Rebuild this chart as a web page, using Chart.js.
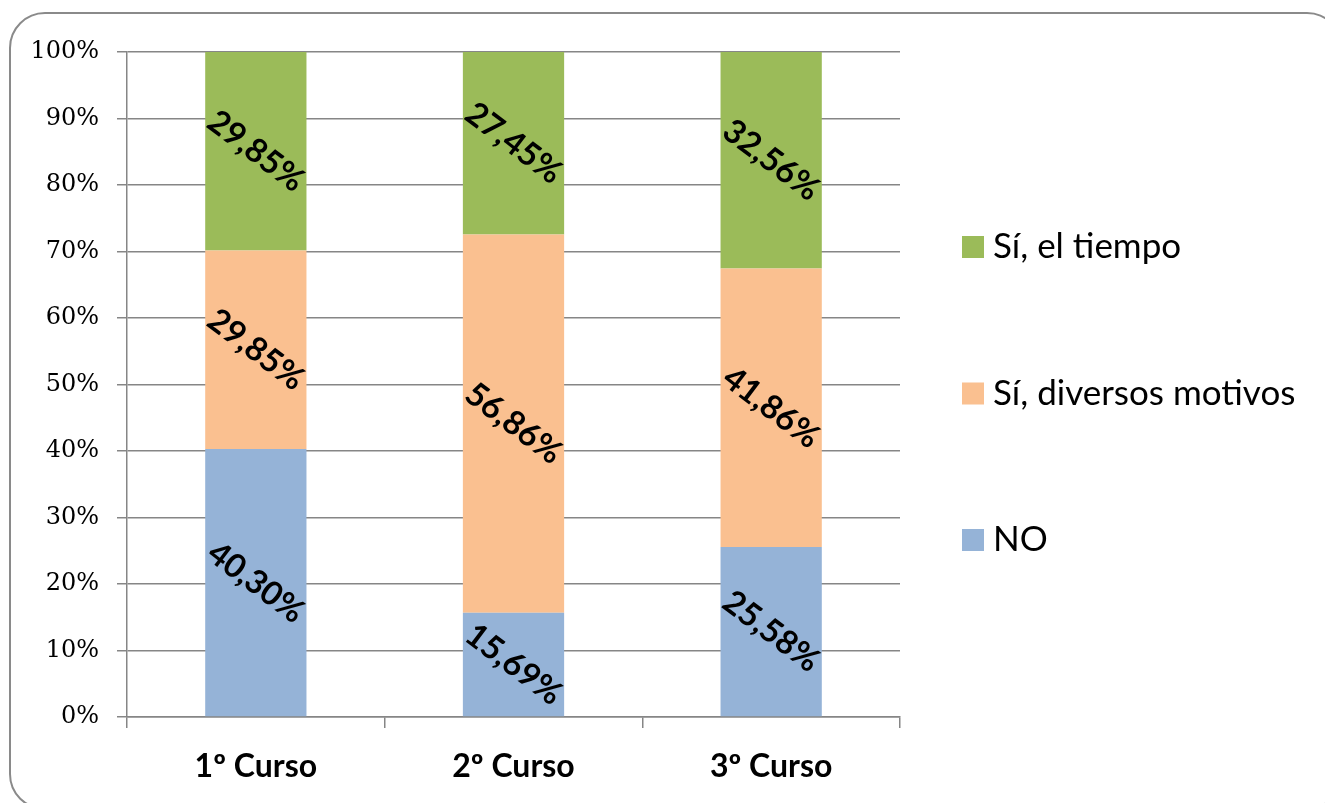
<!DOCTYPE html>
<html lang="es">
<head>
    <meta charset="UTF-8">
    <title>Cursos - gráfico apilado 100%</title>
    <script src="https://cdn.jsdelivr.net/npm/chart.js"></script>
    <style>
        body {
            margin: 0;
            background: #ffffff;
            overflow: hidden;
        }
        .frame {
            position: absolute;
            left: 9px;
            top: 12px;
            width: 1334px;
            height: 798px;
            border: 2px solid #8a8a8a;
            border-radius: 36px;
            box-sizing: border-box;
        }
        .chart-box {
            position: absolute;
            left: 0;
            top: 0;
            width: 1325px;
            height: 803px;
        }
    </style>
</head>
<body>
    <div class="frame"></div>
    <div class="chart-box">
        <canvas id="grafico"></canvas>
    </div>

    <script>
        // Datos
        const cursos = ['1º Curso', '2º Curso', '3º Curso'];
        const valoresNo = [40.30, 15.69, 25.58];
        const valoresDiversos = [29.85, 56.86, 41.86];
        const valoresTiempo = [29.85, 27.45, 32.56];
        const nombresSeries = ['NO', 'Sí, diversos motivos', 'Sí, el tiempo'];
        const coloresSeries = ['#95b3d7', '#fac090', '#9bbb59'];
        const ticksY = [0, 10, 20, 30, 40, 50, 60, 70, 80, 90, 100];

        const fuenteTexto = 'Lato, "Open Sans", sans-serif';
        const colorRejilla = '#868686';

        function formatoPorcentaje(v) {
            return v.toFixed(2).replace('.', ',') + '%';
        }

        // Etiquetas de datos giradas dentro de cada segmento
        const pluginEtiquetas = {
            id: 'etiquetasDatos',
            afterDatasetsDraw(chart) {
                const ctx = chart.ctx;
                ctx.save();
                ctx.font = 'bold 33px ' + fuenteTexto;
                ctx.fillStyle = '#000000';
                ctx.textAlign = 'center';
                ctx.textBaseline = 'middle';
                chart.data.datasets.forEach((ds, i) => {
                    const meta = chart.getDatasetMeta(i);
                    meta.data.forEach((bar, j) => {
                        const cy = (bar.y + bar.base) / 2;
                        ctx.save();
                        ctx.translate(bar.x, cy);
                        ctx.rotate(37 * Math.PI / 180);
                        ctx.fillText(formatoPorcentaje(ds.data[j]), 0, 0);
                        ctx.restore();
                    });
                });
                ctx.restore();
            }
        };

        // Leyenda a la derecha, en orden inverso
        const pluginLeyenda = {
            id: 'leyendaDerecha',
            afterDraw(chart) {
                const ctx = chart.ctx;
                const area = chart.chartArea;
                const items = chart.data.datasets.slice().reverse();
                const separacion = 146.5;
                const centro = (area.top + area.bottom) / 2 + 9;
                const x0 = area.right + 62;
                ctx.save();
                ctx.font = '35px ' + fuenteTexto;
                ctx.textBaseline = 'middle';
                ctx.textAlign = 'left';
                items.forEach((ds, k) => {
                    const y = centro + (k - 1) * separacion;
                    ctx.fillStyle = ds.backgroundColor;
                    ctx.fillRect(x0, y - 11, 22, 22);
                    ctx.fillStyle = '#000000';
                    ctx.fillText(ds.label, x0 + 31, y);
                });
                ctx.restore();
            }
        };

        const ctx = document.getElementById('grafico').getContext('2d');
        new Chart(ctx, {
            type: 'bar',
            data: {
                labels: cursos,
                datasets: [
                    { label: nombresSeries[0], data: valoresNo, backgroundColor: coloresSeries[0] },
                    { label: nombresSeries[1], data: valoresDiversos, backgroundColor: coloresSeries[1] },
                    { label: nombresSeries[2], data: valoresTiempo, backgroundColor: coloresSeries[2] }
                ]
            },
            plugins: [pluginEtiquetas, pluginLeyenda],
            options: {
                responsive: true,
                maintainAspectRatio: false,
                animation: false,
                categoryPercentage: 1,
                barPercentage: 0.393,
                layout: {
                    padding: { left: 0, top: 52, right: 425, bottom: 0 }
                },
                plugins: {
                    legend: { display: false },
                    tooltip: { enabled: false }
                },
                scales: {
                    x: {
                        stacked: true,
                        afterFit(scale) { scale.height = 86; },
                        border: { color: colorRejilla, width: 1.5 },
                        grid: {
                            offset: true,
                            drawOnChartArea: false,
                            color: colorRejilla,
                            lineWidth: 1.5,
                            tickLength: 11
                        },
                        ticks: {
                            color: '#000000',
                            padding: 19,
                            font: { family: fuenteTexto, size: 32, weight: 'bold' }
                        }
                    },
                    y: {
                        stacked: true,
                        min: 0,
                        max: 100,
                        afterFit(scale) { scale.width = 127; },
                        afterBuildTicks(scale) {
                            scale.ticks = ticksY.map(v => ({ value: v }));
                        },
                        border: { color: colorRejilla, width: 1.5 },
                        grid: {
                            color: colorRejilla,
                            lineWidth: 1.5,
                            tickLength: 10
                        },
                        ticks: {
                            color: '#000000',
                            padding: 18,
                            font: { family: '"DejaVu Serif", serif', size: 24 },
                            callback: v => v + '%'
                        }
                    }
                }
            }
        });
    </script>
</body>
</html>
